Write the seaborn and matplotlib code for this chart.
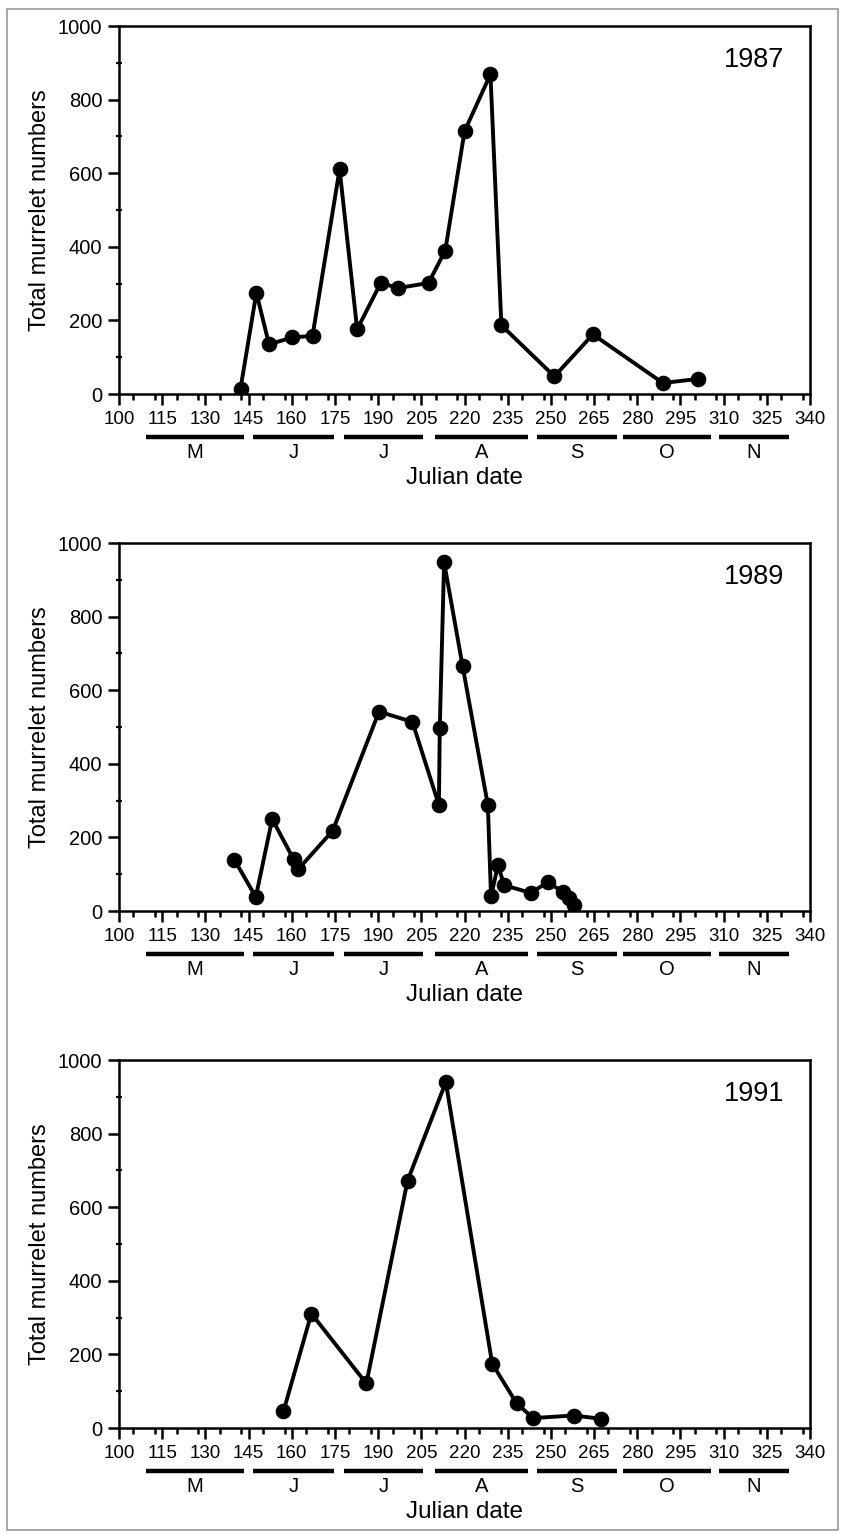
import matplotlib
matplotlib.use("Agg")
import matplotlib.pyplot as plt
import matplotlib.transforms as mtransforms
from matplotlib.patches import Rectangle
from matplotlib.ticker import MultipleLocator
import seaborn as sns

# Julian date / total murrelet counts
years = ["1987", "1989", "1991"]

day_1987 = [142.2, 147.7, 152.1, 160.2, 167.2, 176.6, 182.7, 190.9, 197.0, 207.5,
            213.3, 220.0, 229.0, 232.8, 251.2, 264.6, 288.9, 301.1]
count_1987 = [15, 275, 135, 154, 158, 611, 176, 302, 288, 302,
              390, 714, 869, 187, 48, 162, 30, 41]

day_1989 = [140.1, 147.5, 153.2, 160.6, 162.3, 174.2, 190.3, 201.9, 211.1, 211.4,
            212.9, 219.3, 228.1, 229.2, 231.6, 233.8, 243.1, 248.9, 254.1, 256.2, 258.0]
count_1989 = [139, 38, 250, 141, 114, 218, 542, 514, 288, 497,
              948, 667, 288, 40, 124, 70, 49, 79, 52, 35, 16]

day_1991 = [157.1, 166.8, 185.9, 200.2, 213.5, 229.6, 238.1, 243.8, 257.9, 267.5]
count_1991 = [45, 311, 121, 672, 940, 175, 67, 27, 34, 25]

# month bars under the date axis
month_labels = ["M", "J", "J", "A", "S", "O", "N"]
month_start = [109.3, 146.5, 178.3, 209.7, 245.3, 275.0, 308.5]
month_end = [143.3, 174.5, 205.7, 242.2, 272.9, 305.5, 332.6]

xticks = list(range(100, 341, 15))

sns.set_style("ticks")
plt.rcParams["font.family"] = ["Liberation Sans", "DejaVu Sans"]
plt.rcParams["text.color"] = "black"
plt.rcParams["axes.labelcolor"] = "black"
plt.rcParams["xtick.color"] = "black"
plt.rcParams["ytick.color"] = "black"

fig = plt.figure(figsize=(8.43, 15.35), dpi=100)

# light grey frame around the whole figure
fig.patches.append(Rectangle((7 / 843, 5 / 1535), 831 / 843, 1521 / 1535,
                             transform=fig.transFigure, fill=False,
                             edgecolor="#9a9a9a", linewidth=1.2))

panels = [(day_1987, count_1987), (day_1989, count_1989), (day_1991, count_1991)]
bottoms = [0.7433, 0.4065, 0.0697]

for (days, counts), year, bottom in zip(panels, years, bottoms):
    ax = fig.add_axes([0.1412, bottom, 0.8197, 0.2397])
    sns.lineplot(x=days, y=counts, ax=ax, sort=False, estimator=None,
                 color="black", linewidth=2.8, marker="o", markersize=10.5,
                 markeredgecolor="black", markerfacecolor="black")

    ax.set_xlim(100, 340)
    ax.set_ylim(0, 1000)
    ax.set_xticks(xticks)
    ax.xaxis.set_minor_locator(MultipleLocator(7.5))
    ax.yaxis.set_major_locator(MultipleLocator(200))
    ax.yaxis.set_minor_locator(MultipleLocator(100))
    ax.tick_params(axis="both", which="major", direction="out", length=8,
                   width=1.8, color="black", labelcolor="black")
    ax.tick_params(axis="x", which="major", pad=4, labelsize=13.5)
    ax.tick_params(axis="y", which="major", pad=4, labelsize=14.5)
    ax.tick_params(axis="x", which="minor", direction="out", length=4, width=1.8)
    ax.tick_params(axis="y", which="minor", direction="inout", length=5, width=1.6)
    for side in ["top", "right", "bottom", "left"]:
        ax.spines[side].set_visible(True)
        ax.spines[side].set_linewidth(1.8)
        ax.spines[side].set_color("black")

    ax.set_ylabel("Total murrelet numbers", fontsize=17, color="black")
    ax.yaxis.set_label_coords(-0.099, 0.5)
    ax.set_xlabel("")

    trans = mtransforms.blended_transform_factory(ax.transData, ax.transAxes)
    for lab, x0, x1 in zip(month_labels, month_start, month_end):
        ax.plot([x0, x1], [-0.117, -0.117], transform=trans, color="black",
                linewidth=3.2, clip_on=False, solid_capstyle="butt")
        ax.text((x0 + x1) / 2, -0.160, lab, transform=trans, ha="center",
                va="center", fontsize=14.5, color="black")
    ax.text(0.5, -0.228, "Julian date", transform=ax.transAxes, ha="center",
            va="center", fontsize=17.5, color="black")

    ax.text(320.6, 908, year, ha="center", va="center", fontsize=19.5, color="black")

fig.savefig("out.png", dpi=100)
